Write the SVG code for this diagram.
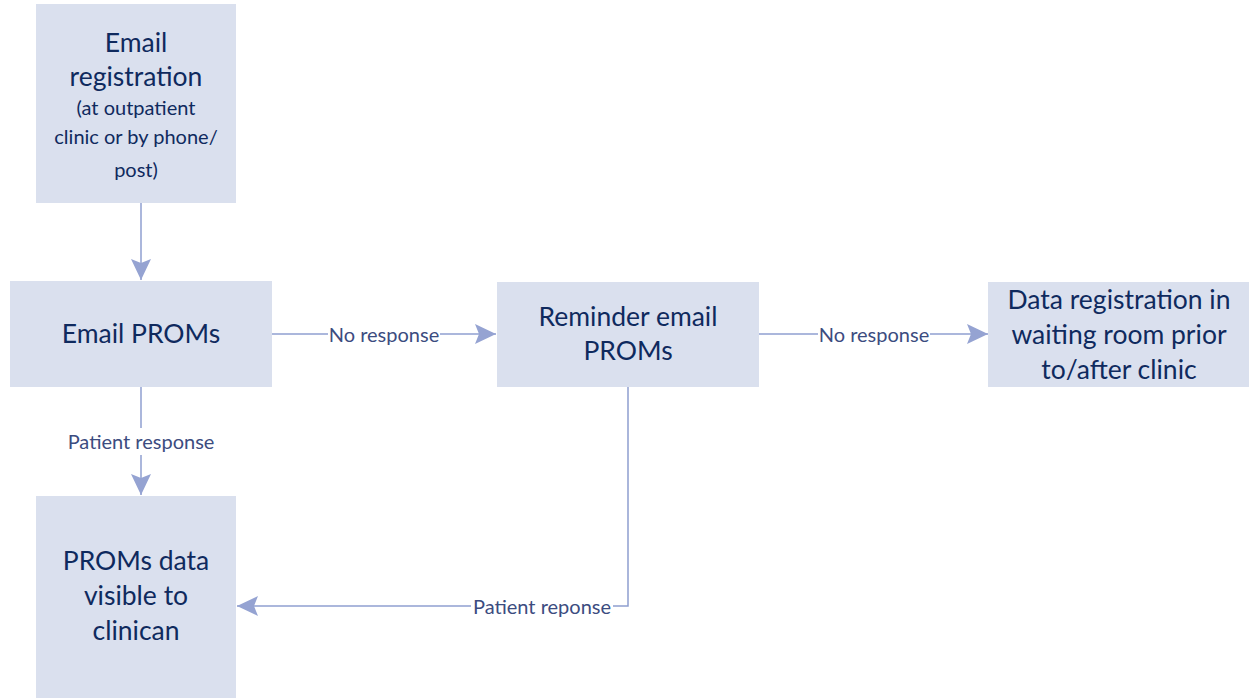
<svg xmlns="http://www.w3.org/2000/svg" width="1249" height="698" viewBox="0 0 1249 698">
  <style>
    .box { fill: #dae0ee; }
    .node-text { font-family: Lato, "Liberation Sans", sans-serif; font-size: 26.5px; fill: #0f2a5e; text-anchor: middle; }
    .node-small { font-size: 20px; }
    .edge { fill: none; stroke: #8f9fd0; stroke-width: 1.5; }
    .edge-label { font-family: Lato, "Liberation Sans", sans-serif; font-size: 20px; fill: #3c4c80; text-anchor: middle; dominant-baseline: central; }
  </style>
  <defs>
    <marker id="arrow" markerUnits="userSpaceOnUse" markerWidth="22" markerHeight="22" viewBox="0 0 22 22" refX="21" refY="11" orient="auto">
      <path d="M0,1 L21,11 L0,21 L4,11 Z" fill="#95a3d2"/>
    </marker>
  </defs>

  <rect width="1249" height="698" fill="#ffffff"/>

  <!-- connectors, split where their labels sit -->
  <g id="connectors">
    <path class="edge" d="M141,203 V280" marker-end="url(#arrow)"/>
    <path class="edge" d="M272,334 H328"/>
    <path class="edge" d="M440,334 H496" marker-end="url(#arrow)"/>
    <text class="edge-label" x="384" y="334">No response</text>
    <path class="edge" d="M759,334 H818"/>
    <path class="edge" d="M930,334 H988" marker-end="url(#arrow)"/>
    <text class="edge-label" x="874" y="334">No response</text>
    <path class="edge" d="M141,387 V428"/>
    <path class="edge" d="M141,455 V495" marker-end="url(#arrow)"/>
    <text class="edge-label" x="141" y="441">Patient response</text>
    <path class="edge" d="M628,387 V606 H613"/>
    <path class="edge" d="M471,606 H237" marker-end="url(#arrow)"/>
    <text class="edge-label" x="542" y="606">Patient reponse</text>
  </g>

  <g id="node-email-registration">
    <rect class="box" x="36" y="4" width="200" height="199"/>
    <text class="node-text" x="136" y="52">Email</text>
    <text class="node-text" x="136" y="86">registration</text>
    <text class="node-text node-small" x="136" y="115">(at outpatient</text>
    <text class="node-text node-small" x="136" y="144">clinic or by phone/</text>
    <text class="node-text node-small" x="136" y="177">post)</text>
  </g>

  <g id="node-email-proms">
    <rect class="box" x="10" y="281" width="262" height="106"/>
    <text class="node-text" x="141" y="343">Email PROMs</text>
  </g>

  <g id="node-reminder">
    <rect class="box" x="497" y="282" width="262" height="105"/>
    <text class="node-text" x="628" y="326">Reminder email</text>
    <text class="node-text" x="628" y="360">PROMs</text>
  </g>

  <g id="node-waiting-room">
    <rect class="box" x="988" y="282" width="261" height="105"/>
    <text class="node-text" x="1119" y="309">Data registration in</text>
    <text class="node-text" x="1119" y="344">waiting room prior</text>
    <text class="node-text" x="1119" y="379">to/after clinic</text>
  </g>

  <g id="node-proms-visible">
    <rect class="box" x="36" y="496" width="200" height="202"/>
    <text class="node-text" x="136" y="570">PROMs data</text>
    <text class="node-text" x="136" y="605">visible to</text>
    <text class="node-text" x="136" y="640">clinican</text>
  </g>
</svg>
